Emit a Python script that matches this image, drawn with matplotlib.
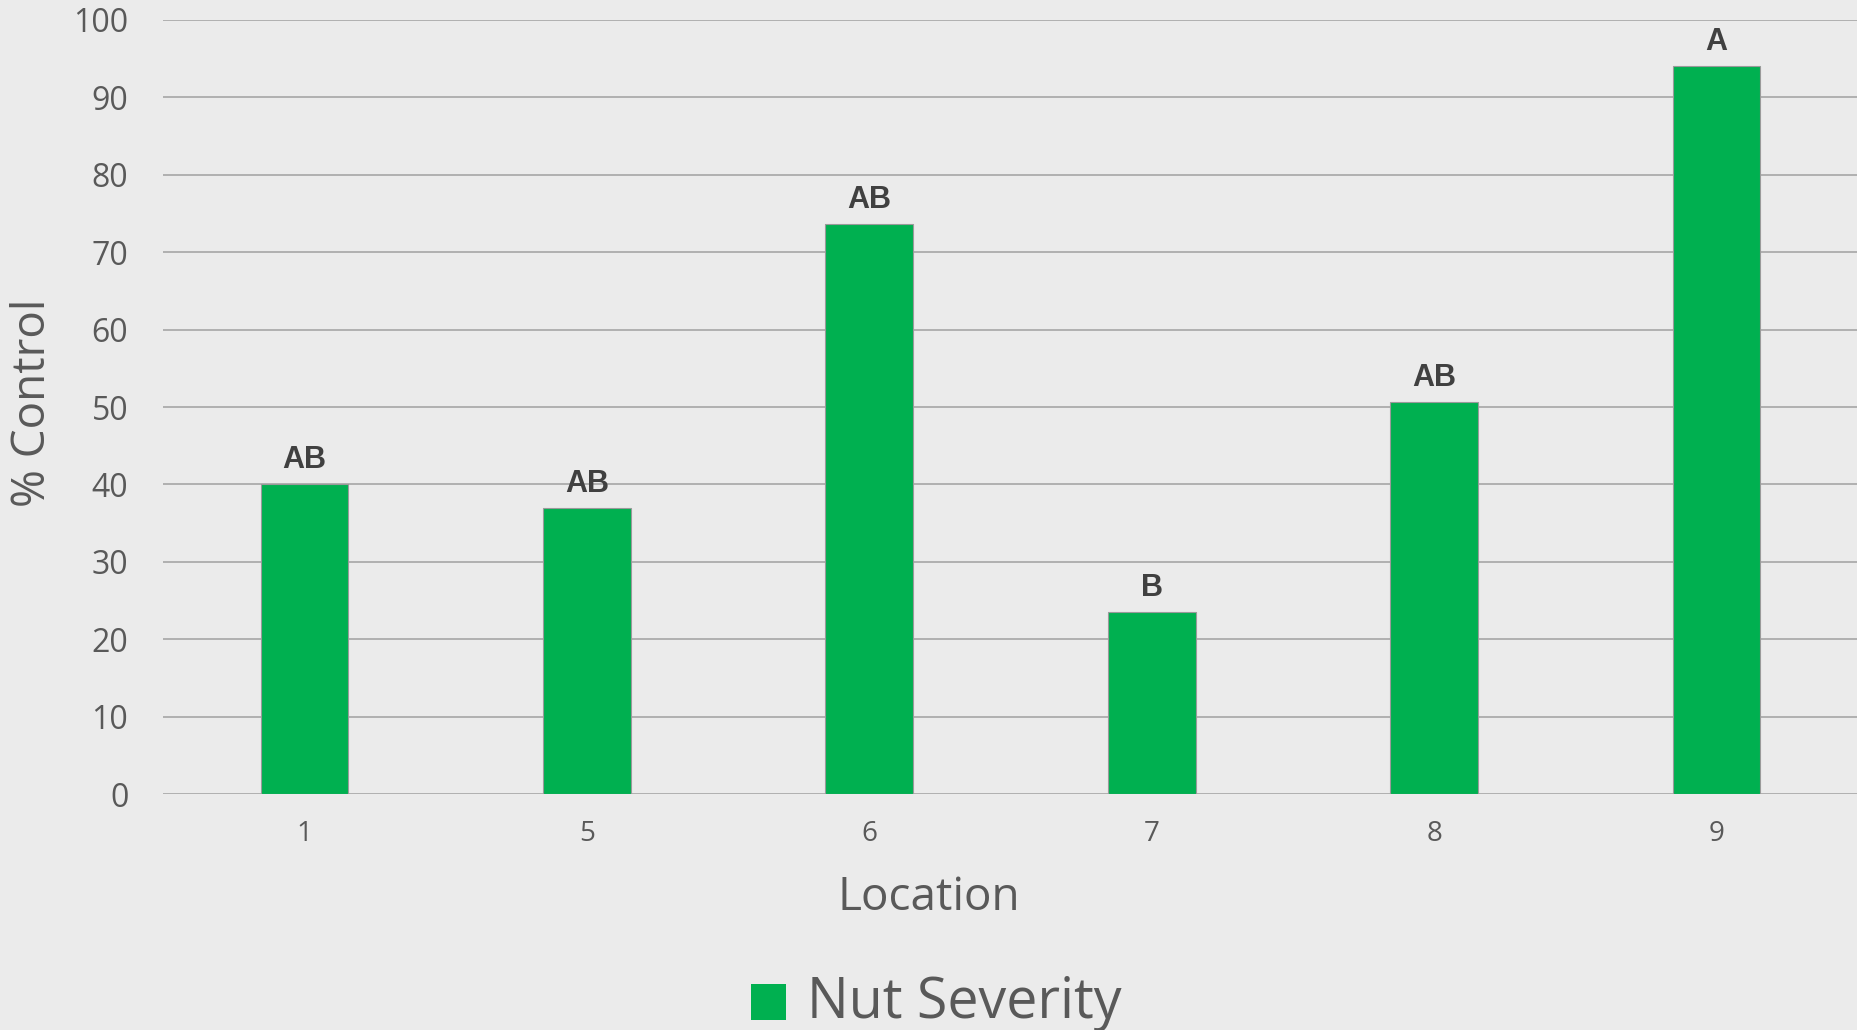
import matplotlib.pyplot as plt
from matplotlib.patches import Rectangle
import numpy as np

# Données
locations = ['1', '5', '6', '7', '8', '9']
nut_severity = [40.0, 37.0, 73.7, 23.5, 50.7, 94.1]
lettres = ['AB', 'AB', 'AB', 'B', 'AB', 'A']

fond = '#EBEBEB'
vert = '#00B050'
gris_texte = '#595959'

W, H = 1857, 1030
fig = plt.figure(figsize=(W / 100, H / 100), dpi=100, facecolor=fond)
ax = fig.add_axes([0.0878, 0.2291, 0.9127, 0.7515], facecolor=fond)

x = np.arange(len(locations))
ax.bar(x, nut_severity, width=0.31, color=vert, edgecolor='#9A9A9A',
       linewidth=0.8, zorder=3)

# Lettres de significativité au-dessus des barres
for xi, val, lettre in zip(x, nut_severity, lettres):
    ax.annotate(lettre, (xi, val), xytext=(0, 11.5), textcoords='offset points',
                ha='center', va='baseline', fontsize=22, fontweight='bold',
                family='Liberation Sans', color='#404040')

ax.set_xlim(-0.5, len(locations) - 0.5)
ax.set_ylim(0, 100)
ax.set_yticks(np.arange(0, 101, 10))
ax.set_xticks(x)
ax.set_xticklabels(locations)

ax.yaxis.grid(True, color='#A6A6A6', linewidth=1.2, zorder=0)
ax.set_axisbelow(True)
for s in ax.spines.values():
    s.set_visible(False)

ax.tick_params(axis='both', length=0, colors=gris_texte)
ax.tick_params(axis='y', labelsize=23, pad=25)
ax.tick_params(axis='x', labelsize=20, pad=19)
for lab in ax.get_xticklabels() + ax.get_yticklabels():
    lab.set_family('Open Sans')

# Titres des axes placés dans la figure
fig.text(929 / W, 1 - 910 / H, 'Location', fontsize=33, color=gris_texte,
         family='Open Sans', ha='center', va='baseline')
fig.text(33 / W, 1 - 403 / H, '% Control', fontsize=33, color=gris_texte,
         family='Open Sans', ha='center', va='center', rotation=90)

# Légende : carré vert + texte
fig.patches.append(Rectangle((751 / W, 1 - 1020 / H), 35 / W, 36 / H,
                             transform=fig.transFigure, facecolor=vert,
                             edgecolor='none', figure=fig))
fig.text(807 / W, 1 - 1018 / H, 'Nut Severity', fontsize=40, color=gris_texte,
         family='Open Sans', ha='left', va='baseline')

plt.savefig('out.png', dpi=100, facecolor=fond)
